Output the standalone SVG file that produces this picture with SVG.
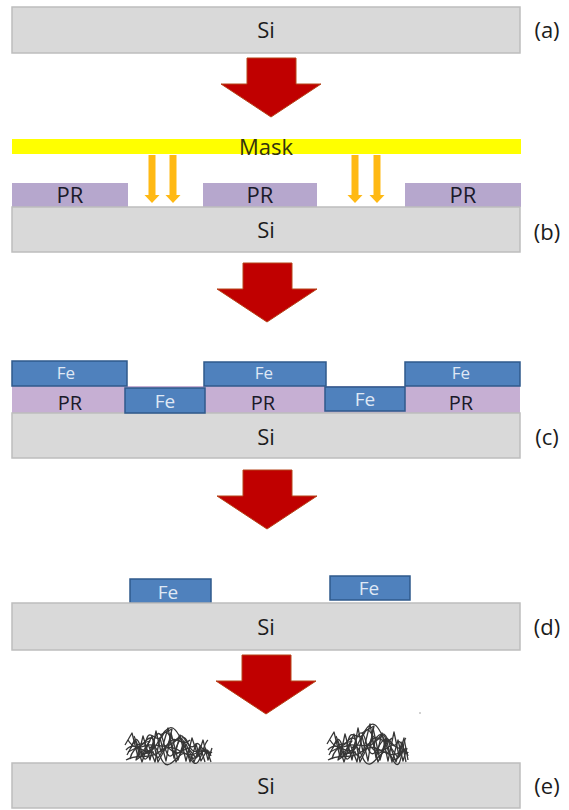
<svg xmlns="http://www.w3.org/2000/svg" width="569" height="810" viewBox="0 0 569 810">
  <style>
    .si { fill: #d9d9d9; stroke: #bdbdbd; stroke-width: 1.5; }
    .pr { fill: #b6a7cd; }
    .prc { fill: #c6afd3; }
    .fe { fill: #4f81bd; stroke: #2f5a8c; stroke-width: 1.5; }
    .mask { fill: #ffff00; }
    .lbl { font-family: "Open Sans", "Liberation Sans", sans-serif; font-size: 22px; fill: #1c1c1c; text-anchor: middle; }
    .prt { font-family: "Open Sans", "Liberation Sans", sans-serif; font-size: 22px; fill: #1a1a2a; text-anchor: middle; }
    .prc-t { font-size: 20px; }
    .fet { font-family: "Open Sans", "Liberation Sans", sans-serif; font-size: 19px; fill: #dfe8f5; text-anchor: middle; }
    .fe-up { font-size: 17px; }
    .step { fill: #c00000; stroke: #b5451b; stroke-width: 1; stroke-linejoin: miter; }
    .uv { fill: #ffb914; }
    .cnt { fill: none; stroke: #363636; stroke-width: 1.3; stroke-linejoin: round; }
  </style>
  <defs>
    <!-- big process-step arrow, origin at top centre of shaft -->
    <path id="bigArrow" d="M-24,0 H25 V26 H50 L0,59 L-50,26 H-24 Z"/>
    <!-- exposure arrow, origin at top centre -->
    <path id="uvArrow" d="M-3.5,0 H3.5 V40 H7.5 L0,48 L-7.5,40 H-3.5 Z"/>
  </defs>

  <!-- (a) bare substrate -->
  <g id="step-a">
    <rect class="si" x="12" y="7" width="508" height="46"/>
    <text class="lbl" x="266" y="38">Si</text>
    <text class="lbl" x="547" y="38">(a)</text>
  </g>

  <!-- (b) photoresist exposure through mask -->
  <g id="step-b">
    <rect class="mask" x="12" y="139" width="509" height="15"/>
    <text x="266" y="155" font-family="Open Sans, Liberation Sans, sans-serif" font-size="22" fill="#33330f" text-anchor="middle">Mask</text>
    <rect class="pr" x="12" y="183" width="116" height="24"/>
    <rect class="pr" x="203" y="183" width="114" height="24"/>
    <rect class="pr" x="405" y="183" width="116" height="24"/>
    <text class="prt" x="70" y="203">PR</text>
    <text class="prt" x="260" y="203">PR</text>
    <text class="prt" x="463" y="203">PR</text>
    <rect class="si" x="12" y="207" width="508" height="45"/>
    <text class="lbl" x="266" y="238">Si</text>
    <text class="lbl" x="547" y="240">(b)</text>
    <g id="exposure">
      <use href="#uvArrow" class="uv" x="152" y="155"/>
      <use href="#uvArrow" class="uv" x="173" y="155"/>
      <use href="#uvArrow" class="uv" x="355" y="155"/>
      <use href="#uvArrow" class="uv" x="377" y="155"/>
    </g>
  </g>

  <!-- (c) Fe deposition over patterned resist -->
  <g id="step-c">
    <rect class="prc" x="12" y="386" width="508" height="27"/>
    <rect class="si" x="12" y="413" width="508" height="45"/>
    <text class="lbl" x="266" y="445">Si</text>
    <text class="lbl" x="547" y="445">(c)</text>
    <rect class="fe" x="12" y="361" width="115" height="25"/>
    <rect class="fe" x="204" y="362" width="122" height="24"/>
    <rect class="fe" x="405" y="362" width="115" height="24"/>
    <rect class="fe" x="125" y="388" width="80" height="25"/>
    <rect class="fe" x="325" y="387" width="80" height="24"/>
    <text class="fet fe-up" x="66" y="379">Fe</text>
    <text class="fet fe-up" x="264" y="379">Fe</text>
    <text class="fet fe-up" x="461" y="379">Fe</text>
    <text class="fet" x="165" y="408">Fe</text>
    <text class="fet" x="365" y="406">Fe</text>
    <text class="prt prc-t" x="70" y="410">PR</text>
    <text class="prt prc-t" x="263" y="410">PR</text>
    <text class="prt prc-t" x="461" y="410">PR</text>
  </g>

  <!-- (d) Fe islands after lift-off -->
  <g id="step-d">
    <rect class="fe" x="130" y="579" width="81" height="24"/>
    <rect class="fe" x="330" y="576" width="80" height="24"/>
    <text class="fet" x="168" y="599">Fe</text>
    <text class="fet" x="369" y="595">Fe</text>
    <rect class="si" x="12" y="603" width="508" height="47"/>
    <text class="lbl" x="266" y="635">Si</text>
    <text class="lbl" x="547" y="635">(d)</text>
  </g>

  <!-- (e) nanotube growth on the catalyst islands -->
  <g id="step-e">
    <rect class="si" x="12" y="763" width="508" height="45"/>
    <text class="lbl" x="266" y="794">Si</text>
    <text class="lbl" x="547" y="794">(e)</text>
    <g id="tangle-left" class="cnt">
      <path d="M125,745 L132,733 L138,757 L143,736 L150,760 L156,731 L161,752 L168,728 L174,758 L180,735 L186,761 L192,738 L198,756 L203,740 L208,760 L212,748"/>
      <path d="M127,755 L135,740 L142,762 L148,744 L155,762 L160,738 L166,761 L171,733 L178,760 L184,741 L190,762 L196,744 L201,761 L207,750 L211,762"/>
      <path d="M126,750 C138,736 146,766 158,742 S176,726 186,750 S204,736 211,756"/>
      <path d="M128,740 C140,760 150,730 160,756 S180,740 190,758 S202,744 208,740"/>
      <path d="M130,759 C133,744 145,748 147,738 C150,728 158,746 163,735 C168,724 172,748 178,738 C184,728 188,754 195,745 C200,738 204,758 210,752"/>
      <path d="M131,748 Q137,730 141,750 T152,746 T164,744 T176,748 T188,743 T200,749"/>
      <path d="M134,736 L142,756 L152,736 L158,762 L170,740 L176,762 L186,744 L194,762 L200,746 L205,762"/>
      <path d="M126,760 C140,752 148,762 162,750 C176,740 184,762 198,752 C204,748 208,756 212,752"/>
      <path d="M145,742 C150,735 156,738 154,746 C152,754 144,752 145,742 Z"/>
      <path d="M173,744 C178,734 186,738 183,748 C180,756 170,754 173,744 Z"/>
      <path d="M160,735 L172,729 L168,746 L180,738"/>
      <path d="M137,745 L150,741 L141,754 L154,752"/>
      <path d="M128,752 L140,746 L136,760 L150,750 L158,758 L166,746 L176,754 L188,748 L196,758 L206,748"/>
      <path d="M150,748 C156,740 164,752 170,742 C176,734 182,748 190,740"/>
    </g>
    <g id="tangle-right" class="cnt">
      <path d="M327,744 L334,732 L340,757 L345,734 L352,760 L358,728 L363,752 L370,724 L376,758 L382,733 L388,761 L394,732 L399,756 L404,738 L408,760"/>
      <path d="M329,755 L337,740 L344,762 L350,744 L357,762 L362,736 L368,761 L373,728 L380,760 L386,738 L392,762 L398,740 L403,761 L407,748"/>
      <path d="M328,750 C340,736 348,766 360,740 S378,722 388,750 S402,734 408,756"/>
      <path d="M330,740 C342,760 352,730 362,756 S382,736 392,758 S402,740 406,738"/>
      <path d="M332,759 C335,744 347,748 349,738 C352,728 360,744 365,732 C370,722 374,748 380,736 C386,726 390,754 397,743 C402,736 405,758 408,752"/>
      <path d="M333,748 Q339,730 343,750 T354,746 T366,742 T378,748 T390,741 T402,749"/>
      <path d="M336,736 L344,756 L354,734 L360,762 L372,738 L378,762 L388,740 L396,762 L402,742 L406,762"/>
      <path d="M328,760 C342,752 350,762 364,750 C378,740 386,762 400,752 C404,748 406,756 408,752"/>
      <path d="M347,742 C352,735 358,738 356,746 C354,754 346,752 347,742 Z"/>
      <path d="M375,740 C380,730 388,734 385,746 C382,754 372,752 375,740 Z"/>
      <path d="M362,733 L374,726 L370,746 L382,736"/>
      <path d="M339,745 L352,741 L343,754 L356,752"/>
      <path d="M330,752 L342,746 L338,760 L352,750 L360,758 L368,744 L378,754 L390,746 L398,758 L406,748"/>
      <path d="M352,748 C358,740 366,752 372,740 C378,732 384,748 392,738"/>
    </g>
    <circle cx="420" cy="713" r="0.8" fill="#9a9a9a"/>
  </g>

  <!-- process-step arrows between stages -->
  <g id="connectors">
    <use href="#bigArrow" class="step" x="271" y="58"/>
    <use href="#bigArrow" class="step" x="267" y="263"/>
    <use href="#bigArrow" class="step" x="267" y="470"/>
    <use href="#bigArrow" class="step" x="266" y="655"/>
  </g>
</svg>
